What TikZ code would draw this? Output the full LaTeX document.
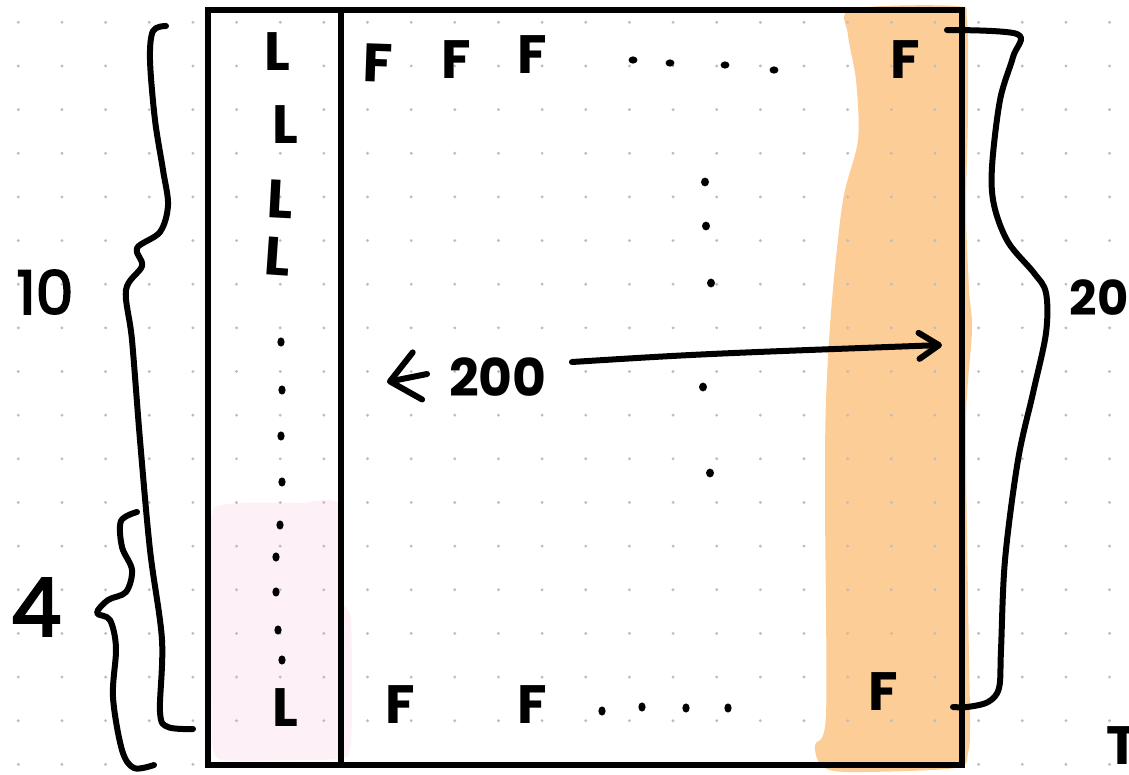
\documentclass[tikz,border=0pt]{standalone}
\usepackage{fontspec}
\setmainfont{Poppins}
\usetikzlibrary{arrows.meta,calc}
\definecolor{ink}{HTML}{000000}
\definecolor{griddot}{HTML}{BDBDBD}
\definecolor{peach}{HTML}{FDCD98}
\definecolor{blush}{HTML}{FDF0F6}

\begin{document}
\begin{tikzpicture}[x=1pt,y=-1pt,
  pen/.style={line width=6pt, line cap=round, line join=round, draw=ink},
  frame/.style={line width=5.5pt, draw=ink},
  hand/.style={font=\fontsize{54}{54}\selectfont\bfseries, inner sep=0pt, text=ink},
  num/.style={font=\fontsize{52}{52}\selectfont\bfseries, inner sep=0pt, text=ink},
  bignum/.style={inner sep=0pt, text=ink},
  blob/.style={fill=ink},
]
\useasboundingbox (0,0) rectangle (1129,774);
\fill[white] (0,0) rectangle (1129,774);

% highlighted last column and the lower part of the label column
\fill[peach] plot[smooth cycle, tension=0.5] coordinates {
  (852,9) (955,6) (967,20) (968,110) (966,210) (969,290) (972,330)
  (966,420) (968,600) (970,720) (968,752) (955,768) (850,772) (822,766)
  (815,745) (826,715) (825,500) (826,400) (832,300) (843,200) (858,140)
  (856,80) (848,35)};
\fill[blush] plot[smooth cycle, tension=0.3] coordinates {
  (214,508) (300,503) (339,504) (343,600) (351,618) (352,700) (348,756)
  (300,760) (222,760) (212,740) (211,600)};

% dotted paper
\foreach \i in {0,...,25}
  \foreach \j in {0,...,17}
    \fill[griddot] ({18.3+43.65*\i},{22.3+43.65*\j}) circle (1.6);

% table outline and the column divider
\draw[frame] (208,10) rectangle (962,765);
\draw[frame] (341,10) -- (341,765);

% label column
\node[hand] (L1) at (277,52) {L};
\node[hand] (L2) at (285,125) {L};
\node[hand, rotate=-3] (L3) at (280,199) {L};
\node[hand, rotate=-4] (L4) at (278,256) {L};
\node[hand] (L5) at (285,708) {L};
\foreach \p in {(281,342),(282,390),(281,436),(282,482),(280,525),(276,557),(276,592),(278,630),(282,660)}
  \fill[blob] \p ellipse (3.6 and 4.6);

% feature rows
\node[hand, rotate=-2] (F1) at (378,63) {F};
\node[hand] (F2) at (456,60) {F};
\node[hand] (F3) at (532,55) {F};
\node[hand] (F4) at (905,60) {F};
\foreach \p in {(633,60),(670,63),(725,65),(774,70)}
  \fill[blob] \p ellipse (4.4 and 3.6);
\node[hand] (F5) at (400,705) {F};
\node[hand] (F6) at (532,705) {F};
\node[hand] (F7) at (883,692) {F};
\foreach \p in {(602,711),(642,707),(686,708),(728,708)}
  \fill[blob] \p ellipse (3.6 and 4.6);
\foreach \p in {(705,182),(706,226),(711,283),(703,387),(710,473)}
  \fill[blob] \p ellipse (4 and 4.4);

% column count
\node[num] (n200) at (498,377) {200};
\coordinate (lefttip) at (387,382);
\coordinate (righttip) at (942,345);
\draw[pen, -{Straight Barb[length=28pt,width=48pt,line cap=round,line join=round]}]
  ($(n200.west)+(-22,-3)$) -- (lefttip);
\draw[pen, -{Straight Barb[length=20pt,width=26pt,line cap=round,line join=round]}]
  ($(n200.east)+(25,-15)$) .. controls (700,354) .. (righttip);

% brace over all rows (10)
\draw[pen] plot[smooth, tension=0.55] coordinates {
  (166,26) (153,31) (150,60) (155,120) (163,170) (168,205) (160,232)
  (137,248) (142,266) (126,290) (132,340) (140,440) (150,550) (162,640)
  (160,712) (168,727) (193,729)};
\node[bignum, font=\fontsize{60}{60}\selectfont\mdseries\addfontfeature{FakeBold=3}] (n10) at (45,292) {10};

% brace over the last rows (4)
\draw[pen] plot[smooth, tension=0.55] coordinates {
  (137,512) (121,521) (122,547) (132,570) (126,592) (108,600) (97,613)
  (110,620) (116,648) (113,697) (122,750) (134,768) (154,765)};
\node[bignum, font=\fontsize{80}{80}\selectfont\mdseries\addfontfeature{FakeBold=3}] (n4) at (36,607) {4};

% brace over the highlighted column (20)
\draw[pen] plot[smooth, tension=0.55] coordinates {
  (947,30) (1017,34) (1013,57) (1000,100) (992,167) (994,205) (1008,242)
  (1034,273) (1046,293) (1046,333) (1033,393) (1018,460) (1005,560)
  (1001,650) (999,688) (988,702) (967,707) (953,707)};
\node[num, font=\fontsize{48}{48}\selectfont\bfseries] (n20) at (1099,298) {20};

% next sketch entering at the corner
\node[hand, anchor=north west] (nextmark) at (1106,726) {T};
\end{tikzpicture}
\end{document}
